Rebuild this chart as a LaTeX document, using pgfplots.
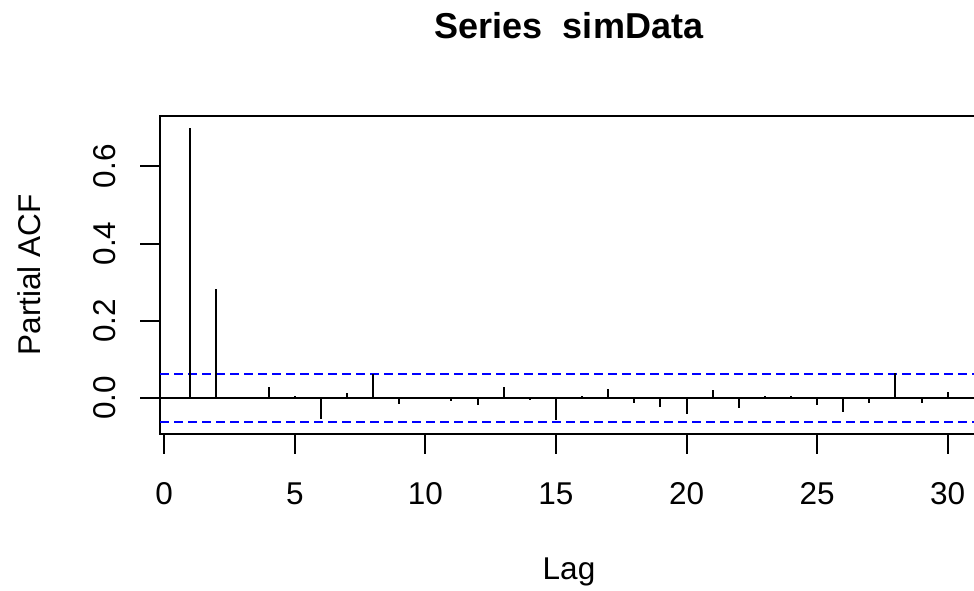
\documentclass[border=0pt]{standalone}
\usepackage{fontspec}
\setmainfont{Liberation Sans}
\usepackage{pgfplots}
\pgfplotsset{compat=1.18}
\begin{document}
\begin{tikzpicture}[x=1pt,y=1pt]
\useasboundingbox (0,0) rectangle (974,591);
\begin{axis}[
  at={(160pt,157.3pt)}, anchor=south west,
  width=818pt, height=317.7pt, scale only axis,
  xmin=-0.16, xmax=31.16, ymin=-0.0925, ymax=0.7305,
  axis line style={line width=2pt},
  tick align=outside, major tick length=20pt,
  tick style={line width=2pt, black},
  xtick={0,5,10,15,20,25,30},
  xticklabels={0,5,10,15,20,25,30},
  ytick={0,0.2,0.4,0.6},
  yticklabels={0.0,0.2,0.4,0.6},
  xtick pos=bottom, ytick pos=left,
  every tick label/.append style={font=\fontsize{31.5}{37.8}\selectfont},
  xticklabel style={anchor=base, yshift=-51.3pt},
  yticklabel style={xshift=-25pt, rotate=90, anchor=base},
  xticklabel shift=0pt, yticklabel shift=0pt,
  clip=false,
]
\addplot[black, line width=2pt] coordinates {(-0.16,0) (31.16,0)};
\addplot[blue, line width=2pt, dash pattern=on 9pt off 5pt] coordinates {(-0.16,0.062) (31.16,0.062)};
\addplot[blue, line width=2pt, dash pattern=on 9pt off 5pt] coordinates {(-0.16,-0.062) (31.16,-0.062)};
\addplot[ycomb, black, line width=2pt, mark=none] coordinates {
(1,0.700) (2,0.283) (3,0.003) (4,0.028) (5,0.005) (6,-0.055) (7,0.014) (8,0.063)
(9,-0.015) (10,-0.003) (11,-0.008) (12,-0.019) (13,0.028) (14,-0.005) (15,-0.058)
(16,0.005) (17,0.023) (18,-0.013) (19,-0.023) (20,-0.041) (21,0.020) (22,-0.025)
(23,0.006) (24,0.005) (25,-0.017) (26,-0.036) (27,-0.012) (28,0.064) (29,-0.012) (30,0.016)
};
\end{axis}
\node[anchor=base, font=\bfseries\fontsize{36}{43}\selectfont] at (569,552.7) {Series\ \ simData};
\node[anchor=base, font=\fontsize{31.5}{37.8}\selectfont] at (569,11) {Lag};
\node[rotate=90, anchor=base, font=\fontsize{31.5}{37.8}\selectfont] at (40,316.15) {Partial ACF};
\end{tikzpicture}
\end{document}
